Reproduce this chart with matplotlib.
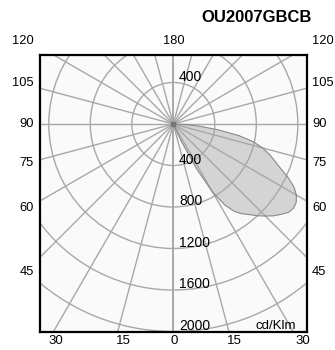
import numpy as np
import matplotlib
matplotlib.use("Agg")
import matplotlib.pyplot as plt
from matplotlib.patches import Circle

plt.rcParams['font.family'] = ['Liberation Sans', 'DejaVu Sans']

# Data
title = "OU2007GBCB"
unit_label = "cd/Klm"
gamma_deg = [0, 5, 10, 15, 20, 22.5, 25, 27.5, 30, 32.5, 35, 37.5, 40, 42.5, 45, 47.5,
             50, 52.5, 55, 57.5, 60, 62.5, 65, 67.5, 70, 72.5, 75, 77.5, 80, 82.5,
             85, 87.5, 90]
intensity = [0, 0, 0, 0, 0, 30, 190, 490, 760, 927, 1030, 1090, 1140, 1200, 1255, 1310,
             1355, 1400, 1415, 1405, 1370, 1310, 1220, 1120, 1040, 970, 890, 790, 640, 440,
             270, 130, 0]
ring_values = [400, 800, 1200, 1600, 2000]
ring_labels_lower = ["400", "800", "1200", "1600", "2000"]
ring_label_upper = "400"
side_labels = ["120", "105", "90", "75", "60", "45"]
top_label = "180"
bottom_labels = ["30", "15", "0", "15", "30"]
radial_step = 15

W, H = 335, 350
fig = plt.figure(figsize=(W / 100, H / 100), dpi=100)

# axes box in pixels
bx0, bx1, by0, by1 = 40, 307, 55, 332
cx, cy = 173.3, 124
upp = 400 / 41.5  # units per pixel
ax = fig.add_axes([bx0 / W, 1 - by1 / H, (bx1 - bx0) / W, (by1 - by0) / H])
ax.set_xlim((bx0 - cx) * upp, (bx1 - cx) * upp)
ax.set_ylim((cy - by1) * upp, (cy - by0) * upp)
ax.set_facecolor('#fafafa')
ax.set_xticks([])
ax.set_yticks([])
for s in ax.spines.values():
    s.set_linewidth(1.6)
    s.set_color('black')
    s.set_zorder(10)

grid_c = '#a8a8a8'
# lobe
g = np.radians(gamma_deg)
I = np.array(intensity, dtype=float)
lx = I * np.sin(g)
ly = -I * np.cos(g)
ax.fill(lx, ly, facecolor='#d4d4d4', edgecolor='none', zorder=1)
ax.plot(np.append(lx, lx[0]), np.append(ly, ly[0]), color='#888888', lw=0.8, zorder=3)

# rings
for r in ring_values:
    ax.add_patch(Circle((0, 0), r, fill=False, ec=grid_c, lw=1.0, zorder=2))
# radial lines
R = 4000
for a in range(0, 360, radial_step):
    t = np.radians(a)
    lw = 1.4 if a in (0, 180) else 1.0
    ax.plot([0, R * np.sin(t)], [0, -R * np.cos(t)], color=grid_c, lw=lw, zorder=2,
            solid_capstyle='butt')
ax.plot([0], [0], marker='s', ms=3, color='#777777', zorder=4)

# ring labels
for r, lab in zip(ring_values, ring_labels_lower):
    ax.text(55, -r + 15, lab, fontsize=10, ha='left', va='baseline', zorder=5)
ax.text(55, ring_values[0] + 15, ring_label_upper, fontsize=10, ha='left', va='baseline', zorder=5)

def ftext(x, y, s, **kw):
    fig.text(x / W, 1 - y / H, s, **kw)

side_y = [41, 83, 124, 163, 208, 272]
for lab, y in zip(side_labels, side_y):
    ftext(34, y, lab, fontsize=9.3, ha='right', va='center')
    ftext(312, y, lab, fontsize=9.3, ha='left', va='center')
ftext(173.5, 41, top_label, fontsize=9.3, ha='center', va='center')
bottom_x = [56, 123, 174, 234, 303]
for lab, x in zip(bottom_labels, bottom_x):
    ftext(x, 341, lab, fontsize=9.5, ha='center', va='center')

ftext(312, 18, title, fontsize=12, fontweight='bold', ha='right', va='center')
ftext(296, 329, unit_label, fontsize=9.5, ha='right', va='baseline')

fig.savefig('out.png', dpi=100, facecolor='white')
